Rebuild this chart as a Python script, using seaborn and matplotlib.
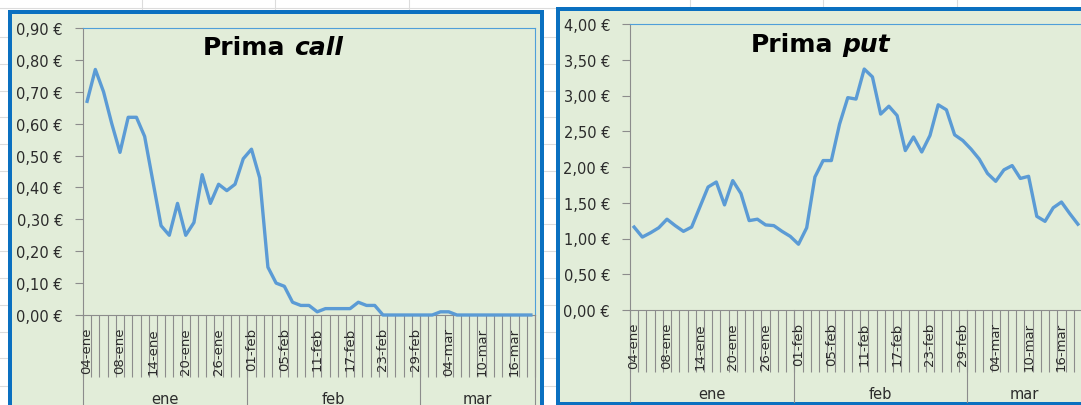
import numpy as np
import matplotlib
matplotlib.use("Agg")
import matplotlib.pyplot as plt
from matplotlib.patches import Rectangle
from matplotlib.lines import Line2D
from matplotlib.transforms import blended_transform_factory
import seaborn as sns

# ---- data -------------------------------------------------------------
months = ["ene", "feb", "mar"]
days_ene = ["04", "05", "06", "07", "08", "11", "12", "13", "14", "15",
            "18", "19", "20", "21", "22", "25", "26", "27", "28", "29"]
days_feb = ["01", "02", "03", "04", "05", "08", "09", "10", "11", "12",
            "15", "16", "17", "18", "19", "22", "23", "24", "25", "26", "29"]
days_mar = ["01", "02", "03", "04", "07", "08", "09", "10", "11", "14",
            "15", "16", "17", "18"]

prima_call = [0.67, 0.77, 0.70, 0.60, 0.51, 0.62, 0.62, 0.56, 0.42, 0.28,
              0.25, 0.35, 0.25, 0.29, 0.44, 0.35, 0.41, 0.39, 0.41, 0.49,
              0.52, 0.43, 0.15, 0.10, 0.09, 0.04, 0.03, 0.03, 0.01, 0.02,
              0.02, 0.02, 0.02, 0.04, 0.03, 0.03, 0.00, 0.00, 0.00, 0.00,
              0.00,
              0.00, 0.00, 0.01, 0.01, 0.00, 0.00, 0.00, 0.00, 0.00, 0.00,
              0.00, 0.00, 0.00, 0.00]

prima_put = [1.16, 1.02, 1.08, 1.15, 1.27, 1.18, 1.10, 1.16, 1.44, 1.72,
             1.79, 1.47, 1.81, 1.63, 1.25, 1.27, 1.19, 1.18, 1.10, 1.03,
             0.92, 1.15, 1.86, 2.09, 2.09, 2.60, 2.97, 2.95, 3.37, 3.26,
             2.74, 2.85, 2.72, 2.23, 2.42, 2.21, 2.44, 2.87, 2.80, 2.45,
             2.37,
             2.25, 2.11, 1.91, 1.80, 1.96, 2.02, 1.84, 1.87, 1.31, 1.24,
             1.43, 1.51, 1.35, 1.20]

call_yticks = [0.0, 0.1, 0.2, 0.3, 0.4, 0.5, 0.6, 0.7, 0.8, 0.9]
put_yticks = [0.0, 0.5, 1.0, 1.5, 2.0, 2.5, 3.0, 3.5, 4.0]
label_step = 4

# ---- styling ----------------------------------------------------------
W, H = 1081, 406
GREEN = "#E2EDD9"
BORDER = "#0A70C0"
PLOT_EDGE = "#4F9FD9"
LINE = "#5B9BD5"
AXIS_GRAY = "#8C8C8C"
TEXT = "#2B2B2B"
PT = 72 / 100  # points per pixel at dpi 100


def fx(x):
    return x / W


def fy(y):
    return 1 - y / H


dates = ([f"{d}-ene" for d in days_ene] + [f"{d}-feb" for d in days_feb]
         + [f"{d}-mar" for d in days_mar])
month_counts = [len(days_ene), len(days_feb), len(days_mar)]
bounds = np.concatenate([[0], np.cumsum(month_counts)])
n = len(dates)
xpos = np.arange(n) + 0.5

fig = plt.figure(figsize=(W / 100, H / 100), dpi=100)
fig.patch.set_facecolor("white")

# spreadsheet cell lines behind the charts
for yy in [9, 38, 65, 92, 118, 145, 172, 199, 225, 252, 279, 306, 333, 359, 387]:
    fig.add_artist(Line2D([0, 1], [fy(yy), fy(yy)], transform=fig.transFigure,
                          color="#DCDCDC", lw=0.8, zorder=-3))
for xx in [142, 275, 409, 690, 823, 957]:
    fig.add_artist(Line2D([fx(xx), fx(xx)], [0, 1], transform=fig.transFigure,
                          color="#DCDCDC", lw=0.8, zorder=-3))


def panel(chart_box, plot_box, values, yticks, ymax, title_main, title_it,
          title_xy, bottom_px):
    x0, y0, x1, y1 = chart_box
    fig.add_artist(Rectangle((fx(x0), fy(y1)), (x1 - x0) / W, (y1 - y0) / H,
                             transform=fig.transFigure, facecolor=GREEN,
                             edgecolor=BORDER, lw=4 * PT, zorder=-1))
    px0, py0, px1, py1 = plot_box
    ax = fig.add_axes([fx(px0), fy(py1), (px1 - px0) / W, (py1 - py0) / H])
    ax.set_facecolor(GREEN)

    sns.lineplot(x=xpos, y=values, ax=ax, color=LINE, lw=2.4, zorder=4)
    for ln in ax.lines:
        ln.set_clip_on(False)
        ln.set_solid_joinstyle("round")

    ax.set_xlim(0, n)
    ax.set_ylim(0, ymax)
    ax.set_xlabel("")
    ax.set_ylabel("")

    ax.set_yticks(yticks)
    ax.set_yticklabels([f"{v:.2f}".replace(".", ",") + " €" for v in yticks])
    ax.tick_params(axis="y", direction="out", length=8 * PT, width=0.8,
                   color=AXIS_GRAY, pad=12 * PT, labelsize=10.5,
                   labelcolor=TEXT)

    ax.set_xticks(np.arange(n + 1))
    ax.set_xticklabels([])
    ax.tick_params(axis="x", which="major", direction="out", length=62 * PT,
                   width=0.8, color=AXIS_GRAY)
    lab_idx = np.arange(0, n, label_step)
    ax.set_xticks(xpos[lab_idx], minor=True)
    ax.set_xticklabels([dates[i] for i in lab_idx], minor=True, rotation=90)
    ax.tick_params(axis="x", which="minor", length=0, pad=12 * PT,
                   labelsize=9.5, labelcolor=TEXT)

    for side in ["left", "bottom"]:
        ax.spines[side].set_color(AXIS_GRAY)
        ax.spines[side].set_linewidth(0.8)
    for side in ["top", "right"]:
        ax.spines[side].set_color(PLOT_EDGE)
        ax.spines[side].set_linewidth(0.8)

    # month grouping level of the category axis
    trans = blended_transform_factory(ax.transData, ax.transAxes)
    ybot = (py1 - bottom_px) / (py1 - py0)
    for b in bounds:
        ax.plot([b, b], [0, ybot], transform=trans, color=AXIS_GRAY, lw=0.8,
                clip_on=False, zorder=1)
    ylab = -84 / (py1 - py0)
    for m, a, b in zip(months, bounds[:-1], bounds[1:]):
        ax.text((a + b) / 2, ylab, m, transform=trans, ha="center",
                va="center", fontsize=10.5, color=TEXT)

    tx, ty = title_xy
    t1 = fig.text(fx(tx), fy(ty), title_main, ha="left", va="bottom",
                  fontsize=18, fontweight="bold", family="DejaVu Sans",
                  color="black")
    ax.annotate(title_it, xy=(1, 0), xycoords=t1, xytext=(6, 0),
                textcoords="offset points", ha="left", va="bottom",
                fontsize=18, fontweight="bold", fontstyle="italic",
                family="DejaVu Sans", color="black", annotation_clip=False)
    return ax


panel((10, 13, 542, 460), (83, 29, 535, 316), prima_call, call_yticks, 0.9,
      "Prima", "call", (203, 60), 470)
panel((557.5, 10, 1110, 405), (630, 25, 1082, 311), prima_put, put_yticks,
      4.0, "Prima", "put", (751, 57), 403)

fig.savefig("out.png", dpi=100)
